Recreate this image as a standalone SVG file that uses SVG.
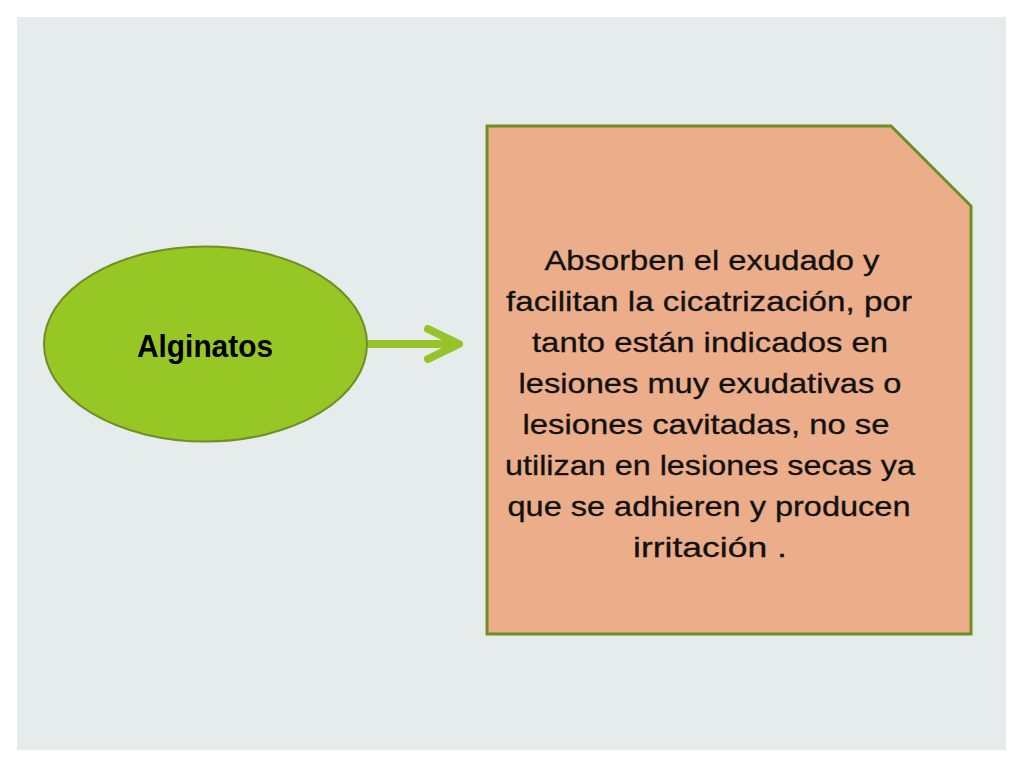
<svg xmlns="http://www.w3.org/2000/svg" width="1024" height="768" viewBox="0 0 1024 768">
<style>
.t{font-family:"Liberation Sans",Arial,sans-serif;font-size:28px;fill:#111;text-anchor:middle;stroke:#111;stroke-width:0.3}
.b{font-family:"Liberation Sans",Arial,sans-serif;font-size:32px;font-weight:bold;fill:#000;text-anchor:middle}
</style>
<rect width="1024" height="768" fill="#ffffff"/>
<rect x="17" y="17" width="989" height="733" fill="#e6ecec"/>
<g id="connectors">
<line x1="367" y1="344" x2="458" y2="344" stroke="#97c32a" stroke-width="8"/>
<polyline points="428,329 459,344 428,359" fill="none" stroke="#97c32a" stroke-width="8" stroke-linecap="round" stroke-linejoin="round"/>
</g>
<g id="node-alginatos">
<ellipse cx="205.5" cy="344" rx="161.5" ry="97.5" fill="#97c724" stroke="#6f8f25" stroke-width="2"/>
<text class="b" x="205" y="357" textLength="136" lengthAdjust="spacingAndGlyphs">Alginatos</text>
</g>
<g id="node-desc">
<path d="M487,126 L891,126 L971,206 L971,634 L487,634 Z" fill="#ebad8a" stroke="#6f8f25" stroke-width="3"/>
<text class="t" x="712" y="270" textLength="335" lengthAdjust="spacingAndGlyphs">Absorben el exudado y</text>
<text class="t" x="709" y="311" textLength="406" lengthAdjust="spacingAndGlyphs">facilitan la cicatrización, por</text>
<text class="t" x="710" y="352" textLength="356" lengthAdjust="spacingAndGlyphs">tanto están indicados en</text>
<text class="t" x="710" y="393" textLength="383" lengthAdjust="spacingAndGlyphs">lesiones muy exudativas o</text>
<text class="t" x="706" y="434" textLength="367" lengthAdjust="spacingAndGlyphs">lesiones cavitadas, no se</text>
<text class="t" x="710" y="475" textLength="410" lengthAdjust="spacingAndGlyphs">utilizan en lesiones secas ya</text>
<text class="t" x="709" y="516" textLength="403" lengthAdjust="spacingAndGlyphs">que se adhieren y producen</text>
<text class="t" x="710" y="557" textLength="154" lengthAdjust="spacingAndGlyphs">irritación  .</text>
</g>
</svg>
